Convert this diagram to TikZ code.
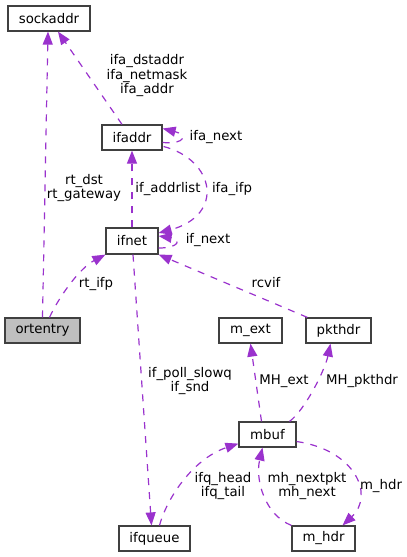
\documentclass[tikz,border=0pt]{standalone}
\usepackage{fontspec}
\setmainfont{DejaVu Sans}
\usetikzlibrary{%
  arrows.meta,%
  positioning,%
  calc%
}
\definecolor{relcol}{HTML}{9A32CD}
\definecolor{boxcol}{HTML}{404040}

\begin{document}
\begin{tikzpicture}
[x=1pt, y=-1pt, >={Triangle[length=13pt,width=10pt]},
font=\fontsize{13.3}{14.5}\selectfont,
entry/.style={rectangle, draw=boxcol, line width=1.2pt, fill=white, inner sep=0pt, minimum height=25pt},
entrygray/.style={entry, fill=gray!50},
link/.style={->, draw=relcol, line width=1.2pt, dash pattern=on 7pt off 7pt},
lbl/.style={align=center, inner sep=0pt}]

\useasboundingbox (0,0) rectangle (407,557);

% classes
\node[entry, minimum width=82pt] (sockaddr) at (49,18.5) {sockaddr};
\node[entry, minimum width=60pt] (ifaddr) at (132,137.5) {ifaddr};
\node[entry, minimum width=52pt, minimum height=26pt] (ifnet) at (132,241) {ifnet};
\node[entrygray, minimum width=75pt] (ortentry) at (42.5,330.5) {ortentry};
\node[entry, minimum width=63pt] (mext) at (250.5,330.5) {m\_ext};
\node[entry, minimum width=65pt] (pkthdr) at (338.5,330.5) {pkthdr};
\node[entry, minimum width=57pt] (mbuf) at (267.5,434.5) {mbuf};
\node[entry, minimum width=71pt] (ifqueue) at (154.5,538.5) {ifqueue};
\node[entry, minimum width=63pt] (mhdr) at (323.5,538.5) {m\_hdr};

% relations
\draw[link] (ortentry.north) -- ($(sockaddr.south)+(-1,0)$);
\draw[link] ($(ifaddr.north)+(-10,0)$) -- ($(sockaddr.south)+(9,0)$);
\draw[link] ($(ifaddr.east)+(0,5)$) .. controls +(24,2) and +(24,6) .. ($(ifaddr.east)+(0,-9)$);
\draw[link] (ifnet.north) -- (ifaddr.south);
\draw[link] ($(ifaddr.east)+(1,9)$) .. controls (215,160) and (225,215) .. ($(ifnet.east)+(0,-8)$);
\draw[link] ($(ifnet.east)+(0,7)$) .. controls +(22,0) and +(22,3) .. ($(ifnet.east)+(0,-5)$);
\draw[link] ($(ortentry.north)+(7,0)$) .. controls (60,295) and (80,268) .. (ifnet.south west);
\draw[link] ($(pkthdr.north west)+(2,0)$) -- (ifnet.south east);
\draw[link] ($(ifnet.south)+(1,0)$) -- ($(ifqueue.north)+(-3,0)$);
\draw[link] ($(mbuf.north)+(-6,0)$) -- (mext.south);
\draw[link] ($(mbuf.north)+(22,0)$) .. controls (305,410) and (325,370) .. ($(pkthdr.south)+(-8,0)$);
\draw[link] ($(ifqueue.north)+(5,0)$) .. controls (168,495) and (195,458) .. ($(mbuf.south west)+(0,-4)$);
\draw[link] ($(mbuf.east)+(0,7)$) .. controls (355,450) and (375,495) .. ($(mhdr.north)+(19,0)$);
\draw[link] (mhdr.north west) .. controls (265,515) and (255,480) .. ($(mbuf.south)+(-5,0)$);

% labels
\node[lbl] (lsock) at (84,188) {rt\_dst\\rt\_gateway};
\node[lbl] (lifa) at (147,76) {ifa\_dstaddr\\ifa\_netmask\\ifa\_addr};
\node[lbl] (lnext) at (216,137) {ifa\_next};
\node[lbl] (laddr) at (168,189) {if\_addrlist};
\node[lbl] (lifp) at (232,189) {ifa\_ifp};
\node[lbl] (lifnext) at (208,240) {if\_next};
\node[lbl] (lrtifp) at (96,284) {rt\_ifp};
\node[lbl] (lrcvif) at (266,283) {rcvif};
\node[lbl] (lsnd) at (190,381) {if\_poll\_slowq\\if\_snd};
\node[lbl] (lext) at (284,381) {MH\_ext};
\node[lbl] (lpkt) at (362,381) {MH\_pkthdr};
\node[lbl] (lifq) at (223,486) {ifq\_head\\ifq\_tail};
\node[lbl] (lmh) at (307,486) {mh\_nextpkt\\mh\_next};
\node[lbl] (lmhdr) at (381,486) {m\_hdr};
\end{tikzpicture}
\end{document}
